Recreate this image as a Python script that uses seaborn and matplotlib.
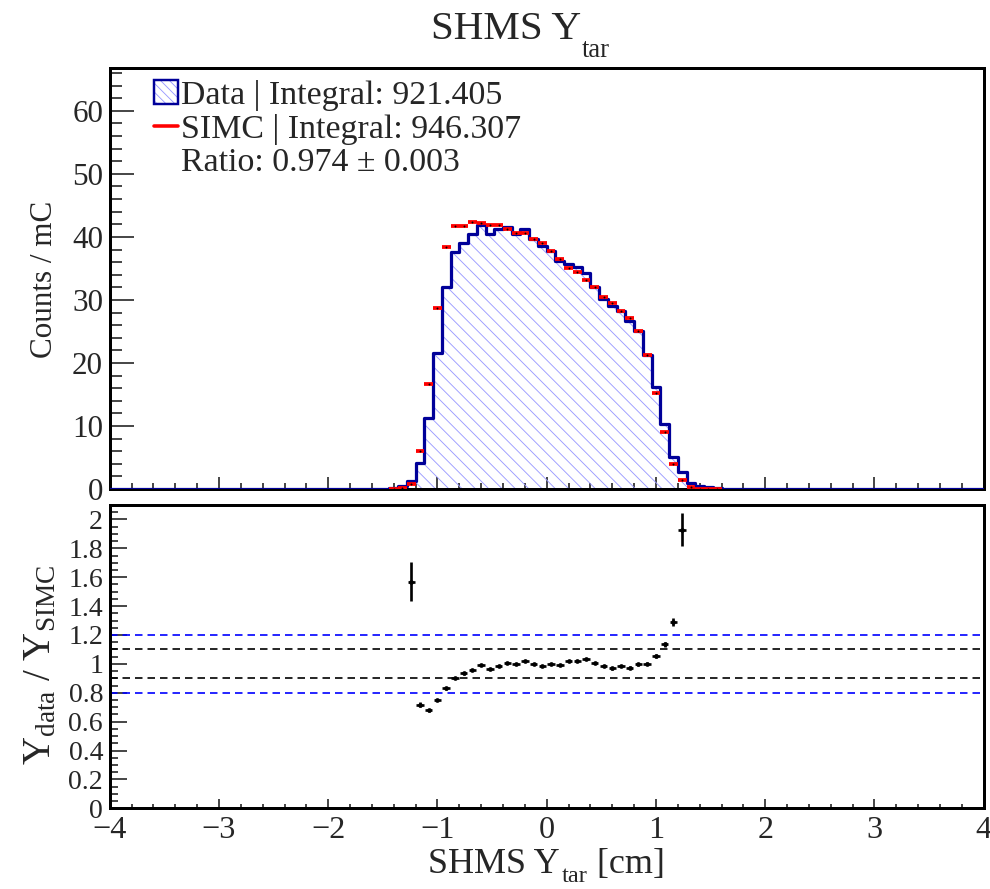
import numpy as np
import pandas as pd
import matplotlib
matplotlib.use("Agg")
import matplotlib.pyplot as plt
import seaborn as sns
from matplotlib.patches import Patch
from matplotlib.lines import Line2D
from matplotlib.ticker import MultipleLocator, FormatStrFormatter, FixedLocator
from matplotlib.legend_handler import HandlerTuple

# ---------------- data ----------------
x_range = (-4.0, 4.0)
n_bins = 100
first_bin_low = -1.44          # left edge of first listed bin
data_counts = [0.1, 0.5, 1.3, 4.2, 11.3, 21.6, 32.0, 37.6, 39.0, 40.5,
               41.9, 40.4, 41.3, 41.5, 40.4, 41.2, 39.6, 38.6, 37.7, 36.1,
               35.7, 35.3, 34.2, 32.1, 30.2, 29.0, 28.2, 26.6, 25.0, 21.3,
               16.2, 10.3, 5.1, 2.7, 0.9, 0.5, 0.25, 0.1]
simc_counts = [0.05, 0.1, 0.83, 6.0, 16.6, 28.7, 38.4, 41.7, 41.7, 42.3,
               42.2, 41.9, 41.9, 41.2, 40.6, 40.6, 39.6, 39.0, 37.7, 36.5,
               35.0, 34.4, 33.2, 32.0, 30.4, 29.5, 28.3, 27.1, 25.0, 21.3,
               15.3, 9.0, 3.9, 1.4, 0.3, 0.05, 0.02, 0.02]
ratio_first_low = -1.28        # left edge of first ratio bin
ratio_values = [1.57, 0.718, 0.678, 0.75, 0.83, 0.90, 0.934, 0.957, 0.994, 0.966,
                0.987, 1.006, 0.997, 1.02, 0.999, 0.985, 1.001, 0.99, 1.02, 1.02,
                1.036, 1.008, 0.985, 0.969, 0.985, 0.973, 0.997, 1.001, 1.054, 1.136,
                1.29, 1.93]
ratio_errors = [0.134, 0.02, 0.012, 0.009, 0.008, 0.008, 0.008, 0.008, 0.008, 0.008,
                0.008, 0.008, 0.008, 0.008, 0.008, 0.008, 0.008, 0.008, 0.008, 0.008,
                0.008, 0.008, 0.008, 0.008, 0.008, 0.009, 0.009, 0.01, 0.012, 0.016,
                0.026, 0.116]
x_ticks = [-4, -3, -2, -1, 0, 1, 2, 3, 4]
top_y_ticks = [0, 10, 20, 30, 40, 50, 60]
bottom_y_ticks = [0, 0.2, 0.4, 0.6, 0.8, 1.0, 1.2, 1.4, 1.6, 1.8, 2.0]
black_ref_lines = [0.9, 1.1]
blue_ref_lines = [0.8, 1.2]
legend_labels = ["Data | Integral: 921.405", "SIMC | Integral: 946.307",
                 "Ratio: 0.974 \u00b1 0.003"]

# ---------------- derived tables ----------------
edges = np.linspace(x_range[0], x_range[1], n_bins + 1)
width = edges[1] - edges[0]
centers = 0.5 * (edges[:-1] + edges[1:])
i0 = int(round((first_bin_low - x_range[0]) / width))
data_full = np.zeros(n_bins)
data_full[i0:i0 + len(data_counts)] = data_counts
hist_df = pd.DataFrame({"x": centers, "w": data_full})
simc_df = pd.DataFrame({"x": centers[i0:i0 + len(simc_counts)], "y": simc_counts})
r0 = int(round((ratio_first_low - x_range[0]) / width))
ratio_df = pd.DataFrame({"x": centers[r0:r0 + len(ratio_values)],
                         "r": ratio_values, "e": ratio_errors})
edge_list = [float(e) for e in edges]

# ---------------- style ----------------
DPI = 80
sns.set_theme(style="ticks")
plt.rcParams["font.family"] = ["Liberation Serif", "DejaVu Serif"]
plt.rcParams["mathtext.fontset"] = "custom"
plt.rcParams["mathtext.rm"] = "Liberation Serif"
plt.rcParams["mathtext.it"] = "Liberation Serif:italic"
plt.rcParams["mathtext.bf"] = "Liberation Serif:bold"
plt.rcParams["hatch.linewidth"] = 0.8
plt.rcParams["hatch.color"] = "#9a9aff"
plt.rcParams["axes.unicode_minus"] = True

NAVY = "#000099"
HATCH = "#9a9aff"
W, H = 990, 889
fig = plt.figure(figsize=(W / DPI, H / DPI), dpi=DPI)
fig.patch.set_facecolor("white")

def fx(px):
    return px / W

def fy(py):
    return 1 - py / H

left_px, right_px = 109.7, 983.7
ax_top = fig.add_axes([fx(left_px), fy(489), fx(right_px - left_px), (489 - 68) / H])
ax_bot = fig.add_axes([fx(left_px), fy(808.3), fx(right_px - left_px), (808.3 - 505) / H])

# ---------------- top panel ----------------
sns.histplot(data=hist_df, x="x", weights="w", bins=edge_list, element="step", fill=True,
             color=HATCH, facecolor=(1, 1, 1, 0), edgecolor=HATCH, linewidth=0,
             hatch="\\\\", ax=ax_top, zorder=1)
sns.histplot(data=hist_df, x="x", weights="w", bins=edge_list, element="step", fill=False,
             color=NAVY, linewidth=2.9, ax=ax_top, zorder=3)
ax_top.errorbar(simc_df["x"], simc_df["y"], xerr=width / 2, fmt="none",
                ecolor="red", elinewidth=3.4, capsize=0, zorder=4)
sns.scatterplot(data=simc_df, x="x", y="y", color="black", s=3, linewidth=0,
                ax=ax_top, zorder=5)

ax_top.set_xlim(*x_range)
ax_top.set_ylim(0, 66.8)
ax_top.set_xlabel("")
ax_top.set_ylabel("")
ax_top.xaxis.set_major_locator(FixedLocator(x_ticks))
ax_top.xaxis.set_minor_locator(MultipleLocator(0.2))
ax_top.yaxis.set_major_locator(FixedLocator(top_y_ticks))
ax_top.yaxis.set_minor_locator(MultipleLocator(2))
ax_top.tick_params(axis="x", which="both", direction="in", labelbottom=False,
                   top=False, width=1.5)
ax_top.tick_params(axis="x", which="major", length=10.8)
ax_top.tick_params(axis="x", which="minor", length=5.4)
ax_top.tick_params(axis="y", which="both", direction="in", right=False, width=1.5)
ax_top.tick_params(axis="y", which="major", length=22, labelsize=28, pad=6)
ax_top.tick_params(axis="y", which="minor", length=11)

leg_handles = [
    (Patch(facecolor="white", edgecolor=HATCH, hatch="\\\\\\", linewidth=0),
     Patch(facecolor="none", edgecolor=NAVY, linewidth=2.2)),
    Line2D([0], [0], color="red", linewidth=3.2),
    Line2D([0], [0], color="none"),
]
ax_top.legend(leg_handles, legend_labels, loc="upper left",
              bbox_to_anchor=(fx(154), fy(80)), bbox_transform=fig.transFigure,
              frameon=False, fontsize=30.5, borderpad=0, borderaxespad=0,
              handlelength=0.7, handleheight=0.7, handletextpad=0.1,
              labelspacing=0.08,
              handler_map={tuple: HandlerTuple(ndivide=1, pad=0)})

# ---------------- bottom panel ----------------
ax_bot.errorbar(ratio_df["x"], ratio_df["r"], yerr=ratio_df["e"], xerr=0.034,
                fmt="none", ecolor="black", elinewidth=2.4, capsize=0, zorder=4)
sns.scatterplot(data=ratio_df, x="x", y="r", color="black", s=18, linewidth=0,
                ax=ax_bot, zorder=5)
for v in black_ref_lines:
    ax_bot.axhline(v, color="black", linewidth=1.5, dashes=(4.5, 3.0), zorder=2)
for v in blue_ref_lines:
    ax_bot.axhline(v, color="#0000ff", linewidth=1.5, dashes=(4.5, 3.0), zorder=2)

ax_bot.set_xlim(*x_range)
ax_bot.set_ylim(0, 2.1)
ax_bot.set_xlabel("")
ax_bot.set_ylabel("")
ax_bot.xaxis.set_major_locator(FixedLocator(x_ticks))
ax_bot.xaxis.set_minor_locator(MultipleLocator(0.2))
ax_bot.yaxis.set_major_locator(FixedLocator(bottom_y_ticks))
ax_bot.yaxis.set_minor_locator(MultipleLocator(0.05))
ax_bot.yaxis.set_major_formatter(FormatStrFormatter("%g"))
ax_bot.tick_params(axis="x", which="both", direction="in", top=False, width=1.5)
ax_bot.tick_params(axis="x", which="major", length=8, labelsize=29, pad=7)
ax_bot.tick_params(axis="x", which="minor", length=4)
ax_bot.tick_params(axis="y", which="both", direction="in", right=False, width=1.5)
ax_bot.tick_params(axis="y", which="major", length=15, labelsize=25, pad=6)
ax_bot.tick_params(axis="y", which="minor", length=7)

for ax in (ax_top, ax_bot):
    for sp in ax.spines.values():
        sp.set_linewidth(2.7)
        sp.set_color("black")
        sp.set_visible(True)
    ax.set_facecolor("white")

# ---------------- texts (ROOT-style dropped subscripts) ----------------
renderer = fig.canvas.get_renderer()

def place_parts(x0_px, base_px, parts):
    x = x0_px
    for text, size, drop_px, gap_px in parts:
        x += gap_px
        t = fig.text(fx(x), fy(base_px + drop_px), text, fontsize=size,
                     ha="left", va="baseline")
        x += t.get_window_extent(renderer).width

place_parts(431, 39, [("SHMS Y", 37, 0, 0), ("tar", 24, 18, 1)])
place_parts(428, 873, [("SHMS Y", 32.5, 0, 0), ("tar", 22, 9, 2),
                       (" [cm]", 32.5, 0, 0)])

fig.text(fx(45), fy(279), "Counts / mC", rotation=90, ha="center", va="center",
         fontsize=28)
fig.text(fx(41), fy(665), r"Y$_{\mathrm{data}}$ / Y$_{\mathrm{SIMC}}$", rotation=90,
         ha="center", va="center", fontsize=35)

fig.savefig("out.png", dpi=DPI, facecolor="white")
